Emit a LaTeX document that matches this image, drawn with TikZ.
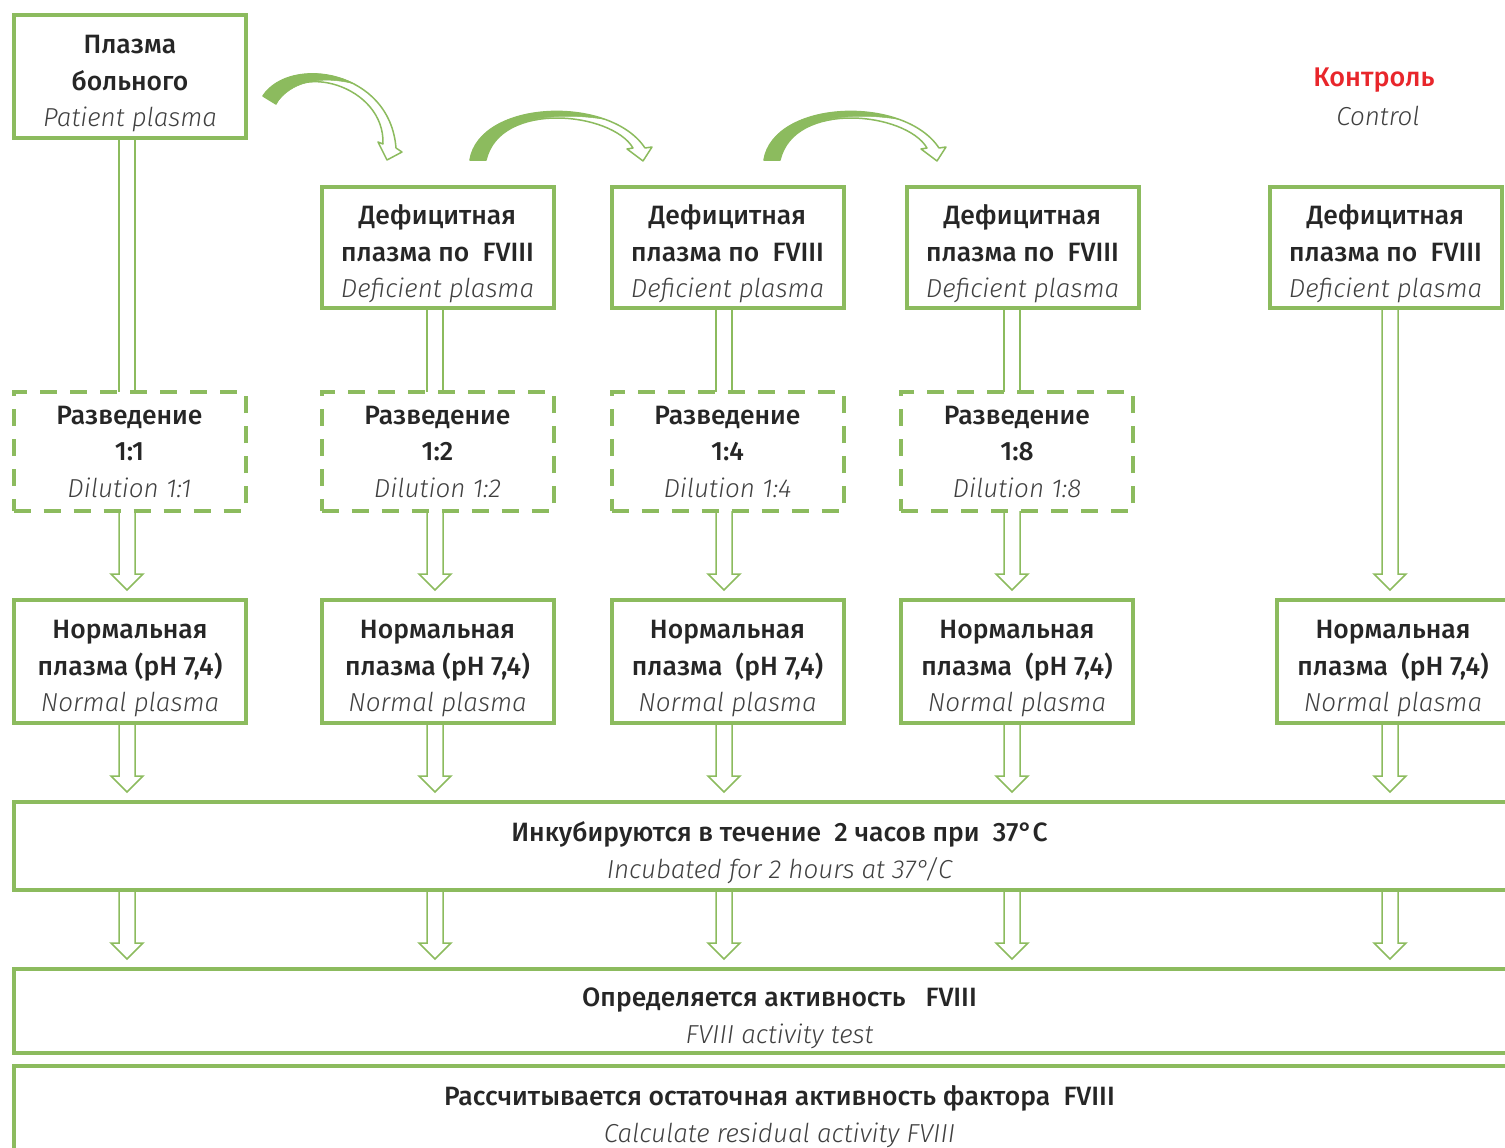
\documentclass[tikz,border=0pt]{standalone}
\usepackage{fontspec}
\setmainfont{Fira Sans}[BoldFont={Fira Sans Medium},ItalicFont={Fira Sans Light Italic}]
\usetikzlibrary{calc,positioning}

\definecolor{boxgreen}{RGB}{140,187,94}
\definecolor{ctrlred}{RGB}{232,38,43}
\definecolor{txtdark}{RGB}{38,38,38}
\definecolor{txtgray}{RGB}{64,64,64}

\newcommand{\ru}[1]{\textbf{#1}}
\newcommand{\fl}[1]{\rule{0pt}{33pt}\textbf{#1}}
\newcommand{\en}[1]{{\fontsize{26}{36}\selectfont\itshape\color{txtgray}#1}}

% hollow block arrow: source, target, column coordinate
\newcommand{\hollow}[3]{%
  \draw[hollowline] let \p1=(#3 |- #1.south), \p2=(#3 |- #2.north) in
    (\x1-8pt,\y1) -- (\x1-8pt,\y2+26pt) -- (\x1-16pt,\y2+26pt) -- (\x1,\y2+10pt)
    -- (\x1+16pt,\y2+26pt) -- (\x1+8pt,\y2+26pt) -- (\x1+8pt,\y1);}
% open shaft only
\newcommand{\shaft}[3]{%
  \draw[hollowline] let \p1=(#3 |- #1.south), \p2=(#3 |- #2.north) in
    (\x1-8pt,\y1) -- (\x1-8pt,\y2) (\x1+8pt,\y1) -- (\x1+8pt,\y2);}

\tikzset{
  stepframe/.style={draw=boxgreen, line width=4pt, minimum width=232pt, align=center,
    inner sep=0pt, outer sep=0pt, font=\fontsize{26.5}{36.5}\selectfont, text=txtdark},
  dilbox/.style={stepframe, dash pattern=on 17pt off 13pt},
  widebox/.style={stepframe, minimum width=1531pt},
  hollowline/.style={draw=boxgreen, line width=1.5pt, line join=miter},
  bentband/.style={draw=boxgreen, line width=1.5pt, fill=white, line join=round},
  bentfill/.style={fill=boxgreen, draw=boxgreen, line width=0.5pt}
}

\begin{document}
\begin{tikzpicture}[x=1pt, y=-1pt]
\useasboundingbox (0,0) rectangle (1505,1148);
\clip (0,0) rectangle (1505,1148);

% columns
\coordinate (c1) at (127,0);
\coordinate (c2) at (435,0);
\coordinate (c3) at (724,0);
\coordinate (c4) at (1012,0);
\coordinate (c5) at (1390,0);

% top row
\node[stepframe, minimum height=123pt] (patient) at (130,76.5)
  {\fl{Плазма}\\ \ru{больного}\\ \en{Patient plasma}};
\node[stepframe, minimum height=121pt] (def1) at (437.5,247.5)
  {\fl{Дефицитная}\\ \ru{плазма по\ \ FVIII}\\ \en{Deficient plasma}};
\node[stepframe, minimum height=121pt] (def2) at (727.5,247.5)
  {\fl{Дефицитная}\\ \ru{плазма по\ \ FVIII}\\ \en{Deficient plasma}};
\node[stepframe, minimum height=121pt] (def3) at (1022.5,247.5)
  {\fl{Дефицитная}\\ \ru{плазма по\ \ FVIII}\\ \en{Deficient plasma}};
\node[stepframe, minimum height=121pt] (defc) at (1385.5,247.5)
  {\fl{Дефицитная}\\ \ru{плазма по\ \ FVIII}\\ \en{Deficient plasma}};
\node[font=\fontsize{27}{36}\selectfont, text=ctrlred] (ctrl) at (1374,80) {\ru{Контроль}};
\node[align=center] (ctrlen) at (1378,116) {\en{Control}};

% dilutions
\node[dilbox, minimum height=119pt] (dil1) at (129.5,451.5)
  {\ru{Разведение}\\ \ru{1:1}\\ \en{Dilution 1:1}};
\node[dilbox, minimum height=119pt] (dil2) at (437.5,451.5)
  {\ru{Разведение}\\ \ru{1:2}\\ \en{Dilution 1:2}};
\node[dilbox, minimum height=119pt] (dil3) at (727.5,451.5)
  {\ru{Разведение}\\ \ru{1:4}\\ \en{Dilution 1:4}};
\node[dilbox, minimum height=119pt] (dil4) at (1017,451.5)
  {\ru{Разведение}\\ \ru{1:8}\\ \en{Dilution 1:8}};

% normal plasma
\node[stepframe, minimum height=123pt] (norm1) at (130,661.5)
  {\fl{Нормальная}\\ \ru{плазма (pH 7,4)}\\ \en{Normal plasma}};
\node[stepframe, minimum height=123pt] (norm2) at (437.5,661.5)
  {\fl{Нормальная}\\ \ru{плазма (pH 7,4)}\\ \en{Normal plasma}};
\node[stepframe, minimum height=123pt] (norm3) at (727.5,661.5)
  {\fl{Нормальная}\\ \ru{плазма\ \ (pH 7,4)}\\ \en{Normal plasma}};
\node[stepframe, minimum height=123pt] (norm4) at (1017,661.5)
  {\fl{Нормальная}\\ \ru{плазма\ \ (pH 7,4)}\\ \en{Normal plasma}};
\node[stepframe, minimum height=123pt] (normc) at (1393,661.5)
  {\fl{Нормальная}\\ \ru{плазма\ \ (pH 7,4)}\\ \en{Normal plasma}};

% wide steps
\node[widebox, minimum height=88pt] (incub) at (779.5,846)
  {\fl{Инкубируются в течение\ \ 2 часов при\ \ 37°C}\\ \en{Incubated for 2 hours at 37°/C}};
\node[widebox, minimum height=84pt] (activ) at (779.5,1011)
  {\fl{Определяется активность\ \ \ FVIII}\\ \en{FVIII activity test}};
\node[widebox, minimum height=88pt] (resid) at (779.5,1110)
  {\fl{Рассчитывается остаточная активность фактора\ \ FVIII}\\ \en{Calculate residual activity FVIII}};

% straight connectors
\shaft{patient}{dil1}{c1}
\shaft{def1}{dil2}{c2}
\shaft{def2}{dil3}{c3}
\shaft{def3}{dil4}{c4}
\hollow{dil1}{norm1}{c1}
\hollow{dil2}{norm2}{c2}
\hollow{dil3}{norm3}{c3}
\hollow{dil4}{norm4}{c4}
\hollow{defc}{normc}{c5}
\hollow{norm1}{incub}{c1}
\hollow{norm2}{incub}{c2}
\hollow{norm3}{incub}{c3}
\hollow{norm4}{incub}{c4}
\hollow{normc}{incub}{c5}
\foreach \c in {c1,c2,c3,c4,c5}
  \hollow{incub}{activ}{\c};

% bent arrow patient -> def1
\draw[bentband] (263,96) .. controls (290,55) and (390,70) .. (396,148)
  -- (402,152) -- (387,160) -- (378,142) -- (383,144)
  .. controls (385,85) and (295,60) .. (276,104) -- cycle;
\fill[bentfill] (263,96) .. controls (279.2,71.4) and (321.7,67) .. (354.4,83.9)
  .. controls (320,75) and (290,82) .. (276,104) -- cycle;

% bent arrows def1 -> def2, def2 -> def3
\foreach \dx in {0,294} {
  \begin{scope}[xshift=\dx pt]
    \draw[bentband] (470,160) .. controls (480,100) and (610,95) .. (645,148)
      -- (652,147) -- (643,161) -- (627,149) -- (633,148)
      .. controls (612,112) and (500,100) .. (486,160) -- cycle;
    \fill[bentfill] (470,160) .. controls (477.5,115) and (552.5,100.9) .. (604.4,119.3)
      .. controls (560,112) and (495,115) .. (486,160) -- cycle;
  \end{scope}
}
\end{tikzpicture}
\end{document}
